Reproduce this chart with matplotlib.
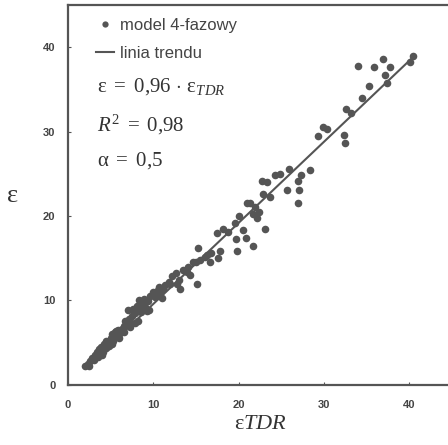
import numpy as np
import matplotlib
matplotlib.use('Agg')
import matplotlib.pyplot as plt
from matplotlib.lines import Line2D

plt.rcParams['mathtext.fontset'] = 'custom'
plt.rcParams['mathtext.rm'] = 'Liberation Serif'
plt.rcParams['mathtext.it'] = 'Liberation Serif:italic'

eps_tdr = [2.0, 2.3, 2.6, 2.8, 3.0, 3.2, 3.4, 3.5, 3.7, 3.9, 4.1, 4.2, 4.4,
           4.6, 4.8, 5.0, 5.2, 5.3, 5.5, 5.7, 5.9, 6.1, 6.3, 6.5, 6.7, 6.9,
           7.0, 7.1, 7.3, 7.5, 7.6, 7.8, 7.9, 8.1, 8.3, 8.4, 8.6, 8.8, 9.0,
           9.2, 9.4, 9.6, 9.9, 10.2, 10.5, 10.8, 11.1, 11.4, 11.8, 12.2,
           12.6, 13.0, 13.1, 13.5, 13.9, 14.3, 14.6, 15.0, 15.5, 16.0,
           15.2, 15.1, 16.3, 16.6, 17.5, 17.6, 17.8, 18.2, 19.6, 19.7, 19.8,
           20.0, 20.5, 20.9, 21.0, 21.7, 21.9, 22.4, 21.7, 22.7, 22.9, 23.1,
           23.3, 23.7, 24.3, 24.8, 25.6, 25.9, 26.9, 27.0, 27.1, 27.3, 28.4,
           29.3, 29.9, 30.3, 32.3, 32.5, 32.6, 33.1, 34.0, 34.4, 35.3, 35.8,
           36.9, 37.2, 37.4, 37.7, 40.1, 40.4,
           2.5, 3.1, 3.6, 4.0, 4.5, 5.1, 5.6, 6.0, 6.6, 7.2, 7.7, 8.2, 8.9,
           9.5, 10.0, 10.6, 11.0, 12.0, 12.8, 14.0, 16.8, 18.8, 21.3, 22.1]
eps_model = [2.3, 2.5, 2.8, 3.2, 2.9, 3.5, 3.9, 3.3, 4.1, 4.5, 3.9, 4.8, 4.4,
             5.0, 4.6, 5.5, 6.0, 5.2, 6.3, 5.8, 6.5, 6.2, 6.6, 6.3, 7.6, 7.2,
             8.9, 7.8, 7.4, 8.2, 9.0, 7.3, 8.5, 9.4, 10.1, 9.0, 8.6, 9.6, 9.2,
             8.8, 9.9, 10.5, 11.0, 10.4, 11.2, 10.9, 11.3, 11.8, 12.2, 12.9,
             13.3, 12.4, 11.3, 13.6, 13.4, 13.0, 14.6, 14.5, 14.8, 15.2,
             16.2, 11.9, 15.4, 14.5, 18.0, 15.0, 15.9, 18.5, 19.2, 17.3, 15.9,
             20.0, 18.4, 17.4, 21.6, 20.2, 21.1, 20.5, 16.5, 24.1, 22.6, 18.5,
             24.0, 22.2, 24.9, 25.0, 23.1, 25.6, 21.6, 24.1, 23.1, 24.8, 25.4,
             29.5, 30.6, 30.3, 29.6, 28.7, 32.7, 32.2, 37.8, 34.0, 35.4, 37.7,
             38.6, 36.7, 35.7, 37.6, 38.2, 39.0,
             2.2, 3.4, 4.3, 3.6, 5.2, 4.8, 6.4, 5.6, 7.0, 6.9, 8.6, 7.6, 10.2,
             8.9, 10.8, 11.6, 10.3, 11.9, 12.0, 14.0, 15.6, 18.1, 21.5, 19.8]
slope = 0.96
trend_x = [2.0, 40.5]

grey = '#555555'
fig = plt.figure(figsize=(4.48, 4.45), dpi=100)
ax = fig.add_axes([0.152, 0.135, 0.857, 0.854])

ax.scatter(eps_tdr, eps_model, s=30, color=grey, linewidths=0, zorder=3)
ax.plot(trend_x, [slope * v for v in trend_x], color=grey, lw=1.5, zorder=2)

ax.set_xlim(0, 45)
ax.set_ylim(0, 45)
ax.set_xticks([0, 10, 20, 30, 40])
ax.set_yticks([0, 10, 20, 30, 40])
for s in ['left', 'bottom', 'top']:
    ax.spines[s].set_color(grey)
    ax.spines[s].set_linewidth(1.6)
ax.spines['right'].set_visible(False)
ax.tick_params(direction='in', length=2, width=0.8, color=grey,
               labelcolor='#444444', labelsize=8)
ax.tick_params(axis='x', pad=11)
ax.tick_params(axis='y', pad=9)
for lab in ax.get_xticklabels() + ax.get_yticklabels():
    lab.set_fontfamily('Liberation Sans')
    lab.set_fontweight('bold')

ax.set_ylabel(r'$\mathrm{ε}$', fontsize=19, rotation=0, color='#333333',
              labelpad=22, va='center')
ax.set_xlabel(r'$\mathrm{ε}\mathit{TDR}$', fontsize=16, color='#333333',
              labelpad=2)

handles = [Line2D([], [], ls='none', marker='o', ms=4.5, color=grey, mec='none'),
           Line2D([], [], color=grey, lw=1.5)]
leg = ax.legend(handles, ['model 4-fazowy', 'linia trendu'], loc='upper left',
                bbox_to_anchor=(0.072, 0.965), frameon=False,
                handlelength=1.1, handletextpad=0.35, labelspacing=0.75,
                borderpad=0, borderaxespad=0,
                prop={'family': 'Liberation Sans', 'size': 12})
for t in leg.get_texts():
    t.set_color('#444444')

tx = 0.075
ax.text(tx, 0.785, r'$\mathrm{ε}\ =\ 0{,}96\,\cdot\,\mathrm{ε}_{\mathit{TDR}}$',
        transform=ax.transAxes, fontsize=15, color='#333333', va='center')
ax.text(tx, 0.685, r'$\mathit{R}^{2}\ =\ 0{,}98$', transform=ax.transAxes,
        fontsize=15, color='#333333', va='center')
ax.text(tx, 0.59, r'$\mathrm{α}\ =\ 0{,}5$', transform=ax.transAxes,
        fontsize=15, color='#333333', va='center')

fig.savefig('out.png', dpi=100)
